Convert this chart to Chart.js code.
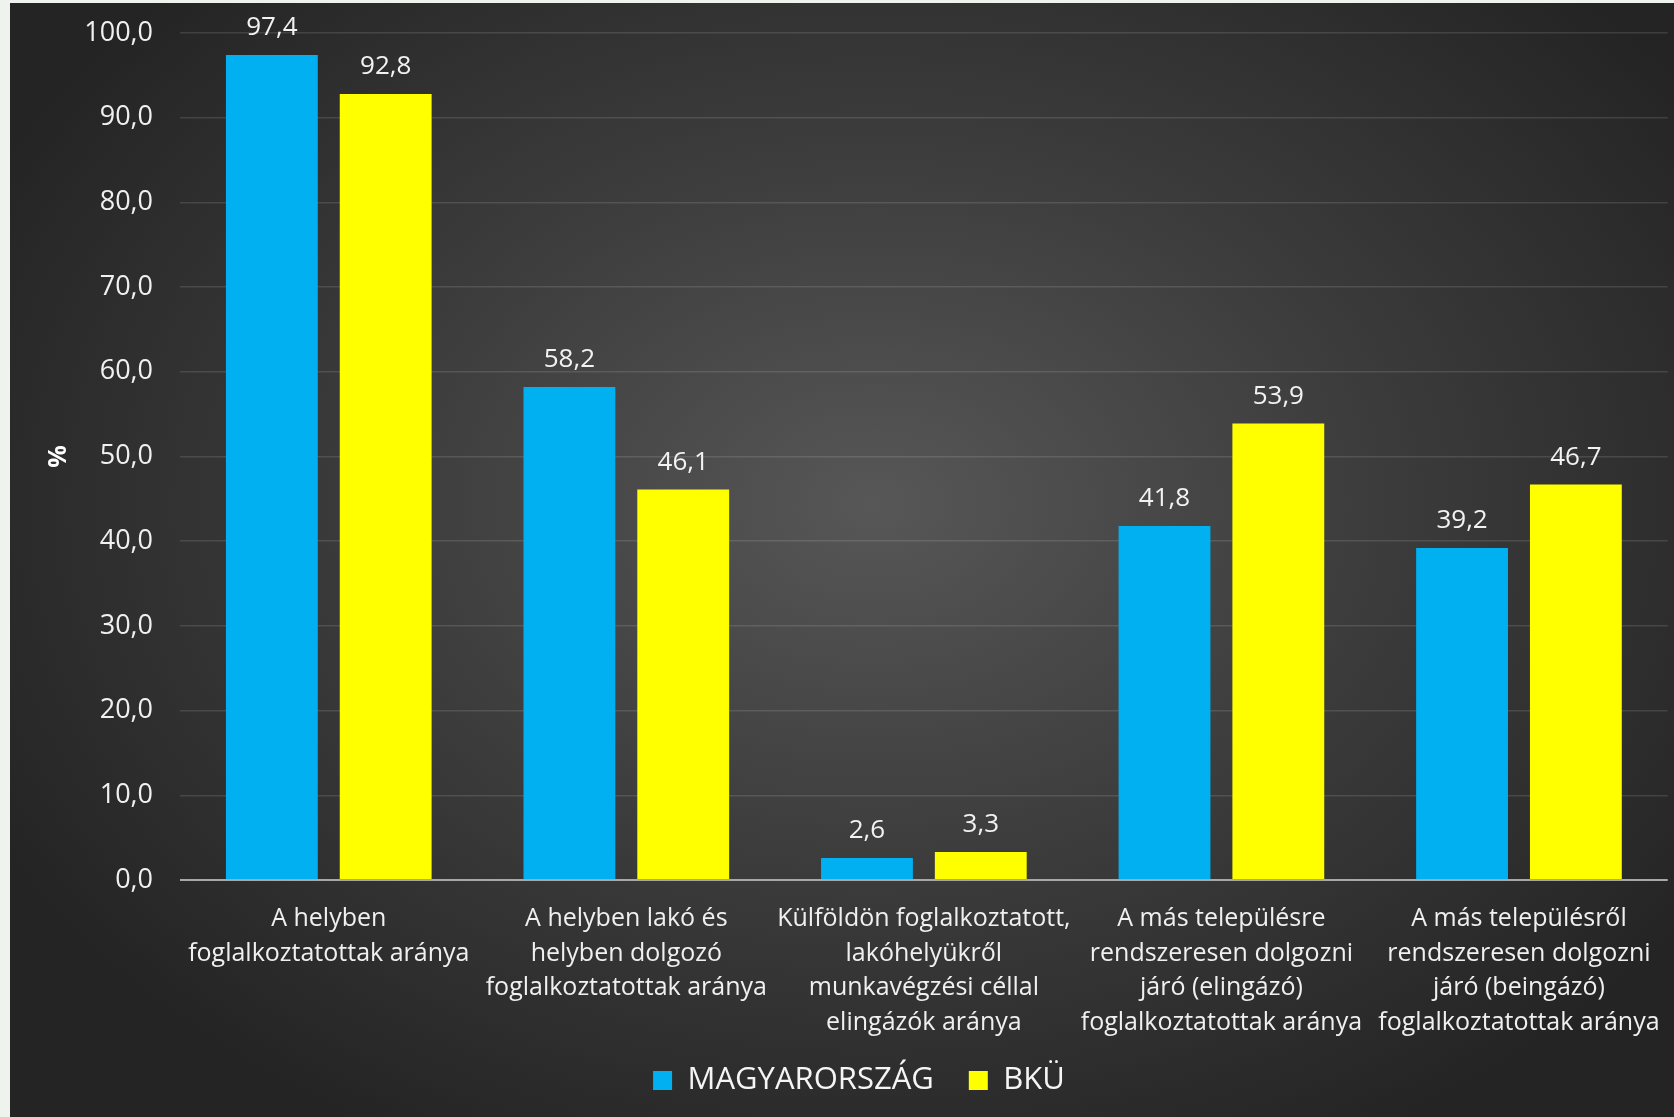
<!DOCTYPE html>
<html>
<head>
<meta charset="utf-8">
<script src="https://cdn.jsdelivr.net/npm/chart.js@4.4.1/dist/chart.umd.min.js"></script>
<style>
	html, body { margin: 0; padding: 0; background: #eef3ee; }
	#wrap {
		position: absolute; left: 10px; top: 3px; width: 1664px; height: 1114px; overflow: hidden;
		background: radial-gradient(ellipse 60% 65% at 52% 45%, #575757 0%, #3c3c3c 50%, #242424 100%);
	}
	canvas { display: block; }
</style>
</head>
<body>
<div id="wrap"><canvas id="mycanvas" width="1664" height="1118"></canvas></div>
<script>
var categories = [
	["A helyben", "foglalkoztatottak aránya"],
	["A helyben lakó és", "helyben dolgozó", "foglalkoztatottak aránya"],
	["Külföldön foglalkoztatott,", "lakóhelyükről", "munkavégzési céllal", "elingázók aránya"],
	["A más településre", "rendszeresen dolgozni", "járó (elingázó)", "foglalkoztatottak aránya"],
	["A más településről", "rendszeresen dolgozni", "járó (beingázó)", "foglalkoztatottak aránya"]
];
var magyarorszag = [97.4, 58.2, 2.6, 41.8, 39.2];
var bku = [92.8, 46.1, 3.3, 53.9, 46.7];
var yTicks = [0, 10, 20, 30, 40, 50, 60, 70, 80, 90, 100];

var fontFamily = "'Open Sans', 'Noto Sans', sans-serif";

function fmt(v) {
	return v.toFixed(1).replace('.', ',');
}

// value labels above each bar
var valueLabels = {
	id: 'valueLabels',
	afterLayout: function(chart) {
		// legend sits a little right of centre and closer to the labels in the original
		chart.legend.left += 19;
		chart.legend.right += 19;
		chart.legend.top -= 15;
		chart.legend.bottom -= 15;
	},
	afterDatasetsDraw: function(chart) {
		var ctx = chart.ctx;
		ctx.save();
		ctx.fillStyle = '#f2f2f2';
		ctx.font = '26px ' + fontFamily;
		ctx.textAlign = 'center';
		ctx.textBaseline = 'middle';
		chart.data.datasets.forEach(function(ds, i) {
			chart.getDatasetMeta(i).data.forEach(function(bar, j) {
				ctx.fillText(fmt(ds.data[j]), bar.x, bar.y - 27);
			});
		});
		ctx.restore();
	}
};

var chartdata = {
	labels: categories,
	datasets: [
		{
			label: 'MAGYARORSZÁG',
			backgroundColor: '#00b0f0',
			borderWidth: 0,
			data: magyarorszag
		},
		{
			label: 'BKÜ',
			backgroundColor: '#ffff00',
			borderWidth: 0,
			data: bku
		}
	]
};

var ctx = document.getElementById('mycanvas');

var barGraph = new Chart(ctx, {
	type: 'bar',
	data: chartdata,
	plugins: [valueLabels],
	options: {
		responsive: false,
		animation: false,
		categoryPercentage: 0.765,
		barPercentage: 0.807,
		layout: { padding: { top: 30, right: 4, bottom: 0, left: 0 } },
		plugins: {
			tooltip: { enabled: false },
			legend: {
				position: 'bottom',
				labels: {
					color: '#f5f5f5',
					font: { family: fontFamily, size: 31 },
					boxWidth: 19,
					boxHeight: 19,
					padding: 35
				}
			}
		},
		scales: {
			x: {
				grid: { display: false },
				border: { display: false },
				ticks: {
					color: '#f0f0f0',
					font: { family: fontFamily, size: 25, lineHeight: 1.38 },
					padding: 14,
					maxRotation: 0,
					autoSkip: false
				},
				afterFit: function(scale) { scale.height = 165; }
			},
			y: {
				min: 0,
				max: 100,
				afterBuildTicks: function(scale) {
					scale.ticks = yTicks.map(function(v) { return { value: v }; });
				},
				grid: {
					drawTicks: false,
					color: function(c) { return c.tick.value === 0 ? '#a8a8a8' : 'rgba(255,255,255,0.12)'; },
					lineWidth: function(c) { return c.tick.value === 0 ? 2 : 1.5; }
				},
				border: { display: false },
				ticks: {
					color: '#f0f0f0',
					font: { family: fontFamily, size: 27 },
					padding: 27,
					callback: function(v) { return fmt(v); }
				},
				title: {
					display: true,
					text: '%',
					color: '#ffffff',
					font: { family: fontFamily, size: 25, weight: 'bold' },
					padding: { top: 34, bottom: 0 }
				},
				afterFit: function(scale) {
					scale.width = 170;
					scale.paddingTop = 0;
					scale.paddingBottom = 0;
				}
			}
		}
	}
});
</script>
</body>
</html>
